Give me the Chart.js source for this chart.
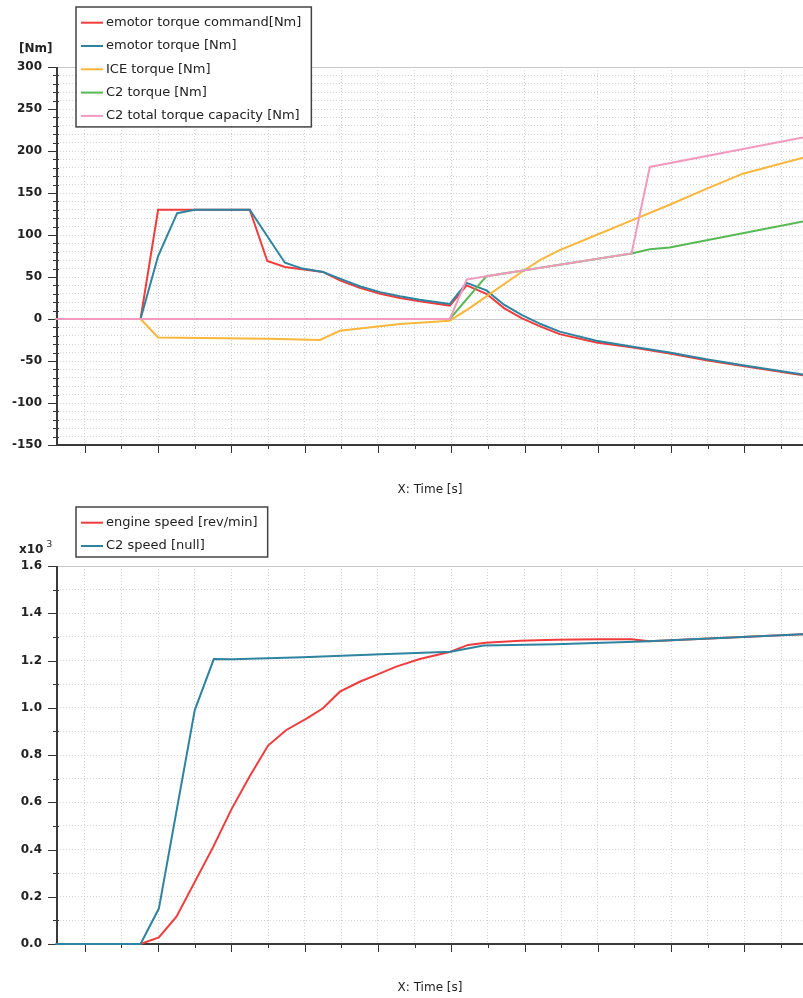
<!DOCTYPE html>
<html>
<head>
<meta charset="utf-8">
<script src="https://cdn.jsdelivr.net/npm/chart.js@4.4.0/dist/chart.umd.min.js"></script>
<style>
  html, body { margin: 0; padding: 0; background: #fff; }
  canvas { display: block; }
</style>
</head>
<body>
<canvas id="torqueChart" width="803" height="500"></canvas>
<canvas id="speedChart" width="803" height="498"></canvas>
<script>
'use strict';

// Time axis ticks [s] (labels are not shown in the original)
const timeTicks = [1, 1.5, 2, 2.5, 3, 3.5, 4, 4.5, 5, 5.5, 6, 6.5, 7, 7.5, 8, 8.5, 9, 9.5, 10, 10.5];
const timeMin = 0.62;
const timeMax = 10.8;

// Torque chart [Nm]
const cmdTime = [0.6, 1.76, 2.0, 3.25, 3.49, 3.73, 4.25, 4.48, 4.75, 5.03, 5.3, 5.57, 5.98, 6.21, 6.48, 6.72, 6.96, 7.22, 7.48, 7.98, 8.48, 8.98, 9.48, 9.98, 10.8];
const cmdTorque = [0, 0, 130, 130, 69, 62, 56, 46, 37, 30, 25, 21, 16, 40, 30, 13, 1, -9, -18, -28, -34, -41, -49, -56, -67];

const emTime = [0.6, 1.76, 2.0, 2.26, 2.5, 3.25, 3.73, 3.97, 4.25, 4.48, 4.75, 5.03, 5.3, 5.57, 5.98, 6.21, 6.48, 6.72, 6.96, 7.22, 7.48, 7.98, 8.48, 8.98, 9.48, 9.98, 10.8];
const emTorque = [0, 0, 75, 126, 130, 130, 67, 60, 56, 48, 39, 32, 27, 23, 18, 43, 34, 17, 5, -6, -15, -26, -33, -40, -48, -55, -66];

const iceTime = [0.6, 1.76, 2.0, 3.5, 4.21, 4.48, 5.3, 5.98, 6.25, 6.48, 6.96, 7.21, 7.48, 7.98, 8.48, 8.98, 9.48, 9.98, 10.8];
const iceTorque = [0, 0, -22, -23.5, -25, -14, -6, -2, 13, 27, 56, 70, 82, 100, 118, 136, 155, 173, 192];

const c2Time = [0.6, 5.98, 6.48, 8.46, 8.71, 8.98, 10.8];
const c2Torque = [0, 0, 51, 78, 83, 85, 116];

const capTime = [0.6, 5.98, 6.21, 6.48, 8.46, 8.71, 10.8];
const capTorque = [0, 0, 47, 51, 78, 181, 216];

// Speed chart [rev/min]
const engTime = [0.6, 1.76, 2.01, 2.25, 2.75, 3.0, 3.25, 3.5, 3.75, 4.03, 4.25, 4.48, 4.75, 4.98, 5.25, 5.57, 5.99, 6.23, 6.47, 6.94, 7.42, 8.01, 8.46, 8.7, 10.8];
const engSpeed = [0, 0, 28, 116, 410, 570, 710, 840, 906, 955, 998, 1068, 1110, 1139, 1174, 1206, 1237, 1266, 1275, 1284, 1288, 1290, 1290, 1281, 1311];

const c2SpeedTime = [0.6, 1.76, 2.01, 2.5, 2.76, 3.02, 3.97, 5.04, 5.99, 6.44, 7.42, 8.61, 10.8];
const c2Speed = [0, 0, 150, 990, 1206, 1205, 1214, 1226, 1237, 1263, 1269, 1280, 1311];

const colors = {
    red: '#f03c3c',
    teal: '#2e84a0',
    orange: '#f8b63c',
    green: '#56b955',
    pink: '#f29abd'
};

Chart.defaults.font.family = '"DejaVu Sans", sans-serif';
Chart.defaults.color = '#222';

function points(ts, vs) {
    return ts.map((t, i) => ({ x: t, y: vs[i] }));
}

function line(label, ts, vs, color, order) {
    return {
        label: label,
        data: points(ts, vs),
        borderColor: color,
        backgroundColor: color,
        borderWidth: 2,
        pointRadius: 0,
        tension: 0,
        clip: 3,
        order: order
    };
}

function isMultiple(v, step) {
    const r = v / step;
    return Math.abs(r - Math.round(r)) < 1e-6;
}

// axes, ticks, boxed legend and unit label drawn the way the original tool does
const framePlugin = {
    id: 'frame',
    beforeDatasetsDraw(chart, args, opts) {
        const { ctx, chartArea: a, scales: { x, y } } = chart;
        ctx.save();

        // top border and zero line
        ctx.strokeStyle = '#c8c8c8';
        ctx.lineWidth = 1;
        ctx.beginPath();
        ctx.moveTo(a.left, a.top + 0.5);
        ctx.lineTo(a.right, a.top + 0.5);
        if (y.min < 0) {
            const y0 = Math.round(y.getPixelForValue(0)) + 0.5;
            ctx.moveTo(a.left, y0);
            ctx.lineTo(a.right, y0);
        }
        ctx.stroke();

        // tick marks
        ctx.strokeStyle = '#333';
        ctx.beginPath();
        y.ticks.forEach(t => {
            const py = Math.round(y.getPixelForValue(t.value)) + 0.5;
            if (isMultiple(t.value, opts.majorY)) {
                ctx.moveTo(a.left - 9, py);
                ctx.lineTo(a.left, py);
            } else {
                ctx.moveTo(a.left - 4, py);
                ctx.lineTo(a.left + 2, py);
            }
        });
        x.ticks.forEach(t => {
            const px = Math.round(x.getPixelForValue(t.value)) + 0.5;
            const len = isMultiple(t.value, 1) ? 8 : 4;
            ctx.moveTo(px, a.bottom);
            ctx.lineTo(px, a.bottom + len);
        });
        ctx.stroke();

        // axis lines
        ctx.strokeStyle = '#3a3a3a';
        ctx.lineWidth = 2;
        ctx.beginPath();
        ctx.moveTo(a.left, a.top);
        ctx.lineTo(a.left, a.bottom);
        ctx.lineTo(a.right, a.bottom);
        ctx.stroke();
        ctx.restore();
    },
    afterDraw(chart, args, opts) {
        const { ctx } = chart;
        ctx.save();

        // unit label
        ctx.fillStyle = '#222';
        ctx.textBaseline = 'middle';
        ctx.textAlign = 'left';
        ctx.font = 'bold 12px "DejaVu Sans", sans-serif';
        ctx.fillText(opts.unit, 19, opts.unitY);
        if (opts.power) {
            const w = ctx.measureText(opts.unit).width;
            ctx.font = '9px "DejaVu Sans", sans-serif';
            ctx.fillText(opts.power, 19 + w + 3, opts.unitY - 5);
        }

        // legend box
        const lx = 76, ly = 7, rowH = 23.3;
        const sets = chart.data.datasets;
        ctx.font = '13px "DejaVu Sans", sans-serif';
        let widest = 0;
        sets.forEach(d => { widest = Math.max(widest, ctx.measureText(d.label).width); });
        const boxW = 30 + widest + 10;
        const boxH = 15.7 + (sets.length - 1) * rowH + 11;
        ctx.fillStyle = '#fff';
        ctx.fillRect(lx, ly, boxW, boxH);
        ctx.strokeStyle = '#444';
        ctx.lineWidth = 1.5;
        ctx.strokeRect(lx, ly, boxW, boxH);
        sets.forEach((d, i) => {
            const cy = ly + 15.7 + i * rowH;
            ctx.strokeStyle = d.borderColor;
            ctx.lineWidth = 2;
            ctx.beginPath();
            ctx.moveTo(lx + 5, cy);
            ctx.lineTo(lx + 27, cy);
            ctx.stroke();
            ctx.fillStyle = '#222';
            ctx.fillText(d.label, lx + 30, cy);
        });
        ctx.restore();
    }
};

function timeAxis(xHeight) {
    return {
        type: 'linear',
        min: timeMin,
        max: timeMax,
        afterBuildTicks: s => { s.ticks = timeTicks.map(v => ({ value: v })); },
        afterFit: s => { s.height = xHeight; },
        ticks: { display: false, autoSkip: false },
        grid: { color: '#d2d2d2', drawTicks: false },
        border: { display: false, dash: [1, 2] },
        title: {
            display: true,
            text: 'X: Time [s]',
            font: { size: 12 },
            color: '#222',
            padding: { top: 0, bottom: 3 }
        }
    };
}

// Torque chart
new Chart(document.getElementById('torqueChart').getContext('2d'), {
    type: 'line',
    data: {
        datasets: [
            line('emotor torque command[Nm]', cmdTime, cmdTorque, colors.red, 5),
            line('emotor torque [Nm]', emTime, emTorque, colors.teal, 4),
            line('ICE torque [Nm]', iceTime, iceTorque, colors.orange, 3),
            line('C2 torque [Nm]', c2Time, c2Torque, colors.green, 2),
            line('C2 total torque capacity [Nm]', capTime, capTorque, colors.pink, 1)
        ]
    },
    options: {
        responsive: false,
        animation: false,
        layout: { padding: { top: 67, right: 0, bottom: 0, left: 0 } },
        plugins: {
            legend: { display: false },
            tooltip: { enabled: false },
            frame: { unit: '[Nm]', unitY: 49, majorY: 50 }
        },
        scales: {
            x: timeAxis(55),
            y: {
                min: -150,
                max: 300,
                afterFit: s => { s.width = 57; },
                ticks: {
                    stepSize: 10,
                    autoSkip: false,
                    padding: 15,
                    font: { size: 12, weight: 'bold' },
                    callback: v => (isMultiple(v, 50) ? String(v) : '')
                },
                grid: { color: '#d2d2d2', drawTicks: false },
                border: { display: false, dash: [1, 2] }
            }
        }
    },
    plugins: [framePlugin]
});

// Speed chart
new Chart(document.getElementById('speedChart').getContext('2d'), {
    type: 'line',
    data: {
        datasets: [
            line('engine speed [rev/min]', engTime, engSpeed, colors.red, 2),
            line('C2 speed [null]', c2SpeedTime, c2Speed, colors.teal, 1)
        ]
    },
    options: {
        responsive: false,
        animation: false,
        layout: { padding: { top: 66, right: 0, bottom: 0, left: 0 } },
        plugins: {
            legend: { display: false },
            tooltip: { enabled: false },
            frame: { unit: 'x10', power: '3', unitY: 50, majorY: 200 }
        },
        scales: {
            x: timeAxis(54),
            y: {
                min: 0,
                max: 1600,
                afterFit: s => { s.width = 57; },
                ticks: {
                    stepSize: 100,
                    autoSkip: false,
                    padding: 15,
                    font: { size: 12, weight: 'bold' },
                    callback: v => (isMultiple(v, 200) ? (v / 1000).toFixed(1) : '')
                },
                grid: { color: '#d2d2d2', drawTicks: false },
                border: { display: false, dash: [1, 2] }
            }
        }
    },
    plugins: [framePlugin]
});
</script>
</body>
</html>
